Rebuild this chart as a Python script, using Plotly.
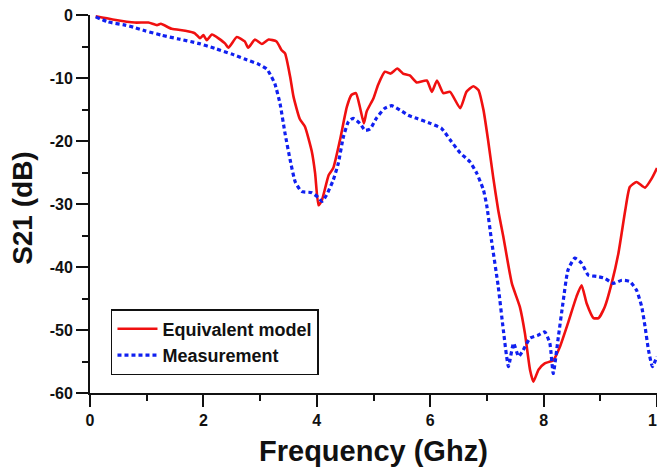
import plotly.graph_objects as go

# Equivalent model (red, solid)
model_freq = [0.1, 0.4, 0.79, 1.03, 1.18, 1.25, 1.44, 1.68, 1.85, 1.94, 2.0, 2.06, 2.15, 2.38, 2.44,
              2.59, 2.73, 2.79, 2.91, 3.03, 3.15, 3.29, 3.38, 3.44, 3.53, 3.59, 3.70, 3.79, 3.91,
              3.97, 4.03, 4.09, 4.21, 4.29, 4.41, 4.53, 4.61, 4.69, 4.76, 4.83, 4.88, 5.0, 5.08,
              5.2, 5.30, 5.42, 5.52, 5.64, 5.76, 5.94, 6.03, 6.12, 6.23, 6.35, 6.53, 6.64, 6.76,
              6.85, 6.94, 7.02, 7.11, 7.20, 7.29, 7.44, 7.58, 7.67, 7.76, 7.82, 7.91, 8.02, 8.17,
              8.29, 8.43, 8.58, 8.67, 8.76, 8.88, 8.97, 9.08, 9.20, 9.32, 9.44, 9.52, 9.64, 9.79,
              9.91, 10.0]
model_s21 = [-0.2, -0.7, -1.2, -1.2, -1.6, -1.4, -2.2, -2.5, -2.9, -3.7, -3.2, -4.0, -3.1, -4.5, -5.2,
             -3.5, -4.2, -5.2, -3.9, -4.6, -3.9, -4.2, -5.6, -6.1, -9.8, -13.0, -16.5, -17.7, -21.6,
             -25.1, -30.2, -29.4, -25.4, -24.3, -19.8, -14.6, -12.7, -12.4, -14.6, -17.2, -15.3, -13.2, -11.1,
             -9.0, -9.3, -8.5, -9.3, -9.6, -10.7, -10.4, -12.2, -10.4, -12.4, -12.2, -14.8, -12.2, -11.3,
             -11.9, -15.1, -19.8, -25.7, -31.0, -35.2, -42.6, -46.3, -50.5, -56.3, -58.2, -56.3, -55.3, -54.8,
             -52.6, -48.9, -44.7, -42.9, -45.8, -48.1, -48.1, -46.3, -42.6, -37.8, -31.0, -27.3, -26.5, -27.4,
             -25.9, -24.3]

# Measurement (blue, dotted)
meas_freq = [0.1, 0.32, 0.62, 0.79, 0.97, 1.26, 1.56, 1.91, 2.20, 2.50, 2.73, 2.97, 3.12, 3.20, 3.26,
             3.35, 3.44, 3.53, 3.62, 3.73, 3.91, 4.03, 4.09, 4.17, 4.29, 4.38, 4.47, 4.56, 4.64,
             4.76, 4.85, 4.94, 5.05, 5.2, 5.32, 5.47, 5.61, 5.76, 6.0, 6.20, 6.35, 6.53, 6.70,
             6.82, 6.94, 7.0, 7.08, 7.20, 7.29, 7.38, 7.47, 7.56, 7.64, 7.76, 7.91, 8.02, 8.11,
             8.17, 8.26, 8.34, 8.43, 8.55, 8.67, 8.79, 8.94, 9.08, 9.23, 9.38, 9.52, 9.64, 9.73,
             9.79, 9.85, 9.92, 10.0]
meas_s21 = [-0.3, -1.1, -1.6, -2.0, -2.5, -3.2, -3.8, -4.5, -5.3, -6.2, -7.0, -7.8, -8.6, -9.8, -10.9,
            -14.0, -18.8, -23.0, -26.5, -28.0, -28.2, -29.0, -29.6, -28.6, -26.2, -23.5, -19.3, -16.9, -16.4,
            -17.2, -18.3, -18.1, -16.4, -14.8, -14.4, -15.1, -15.9, -16.4, -17.2, -18.0, -19.8, -21.9, -23.3,
            -25.1, -27.8, -30.4, -35.7, -43.1, -50.0, -55.8, -52.1, -54.2, -53.2, -51.3, -50.8, -50.3, -52.1,
            -56.9, -51.1, -45.8, -40.5, -38.6, -39.4, -41.3, -41.5, -41.8, -42.6, -42.1, -42.3, -43.7, -46.3,
            -49.5, -53.2, -55.8, -54.2]

x_ticks = [0, 2, 4, 6, 8, 10]
y_ticks = [0, -10, -20, -30, -40, -50, -60]

FONT = "Liberation Sans, Arial, sans-serif"

fig = go.Figure()
fig.add_trace(go.Scatter(x=model_freq, y=model_s21, mode="lines", name="Equivalent model",
                         line=dict(color="#f01010", width=2.6, shape="spline", smoothing=0.5)))
fig.add_trace(go.Scatter(x=meas_freq, y=meas_s21, mode="lines", name="Measurement",
                         line=dict(color="#1020f0", width=3.2, dash="4px,3px", shape="spline", smoothing=0.5)))

axis_common = dict(showgrid=False, zeroline=False, showline=True, linewidth=2, linecolor="#111",
                   ticks="outside", ticklen=12, tickwidth=2, tickcolor="#111",
                   ticklabeloverflow="allow", automargin=False,
                   tickfont=dict(family=FONT, size=16, color="#111", weight="bold"))

fig.update_xaxes(range=[0, 10], tickvals=x_ticks, ticktext=[str(v) for v in x_ticks],
                 minor=dict(dtick=1, tick0=0, ticks="outside", ticklen=6, tickwidth=2, tickcolor="#111"),
                 **axis_common)
fig.update_yaxes(range=[-60, 0], tickvals=y_ticks, ticktext=[str(v) for v in y_ticks],
                 minor=dict(dtick=5, tick0=0, ticks="outside", ticklen=6, tickwidth=2, tickcolor="#111"),
                 **axis_common)

fig.add_annotation(text="Frequency (Ghz)", xref="paper", yref="paper", x=0.5, y=-0.153,
                   xanchor="center", yanchor="middle", showarrow=False,
                   font=dict(family=FONT, size=29, color="#111", weight="bold"))
fig.add_annotation(text="S21 (dB)", xref="paper", yref="paper", x=-0.118, y=0.49,
                   xanchor="center", yanchor="middle", textangle=-90, showarrow=False,
                   font=dict(family=FONT, size=28, color="#111", weight="bold"))

# The page body adds an 8px offset, so the figure is sized to fill the rest of the window.
fig.update_layout(
    width=657, height=464,
    margin=dict(l=82, r=8, t=7, b=79, autoexpand=False),
    plot_bgcolor="white", paper_bgcolor="white",
    legend=dict(x=0.037, y=0.222, xanchor="left", yanchor="top",
                bordercolor="#111", borderwidth=1.5, bgcolor="white",
                font=dict(family=FONT, size=18, color="#111", weight="bold"),
                tracegroupgap=0, itemwidth=40),
    showlegend=True,
)

fig.write_html("out.html")
